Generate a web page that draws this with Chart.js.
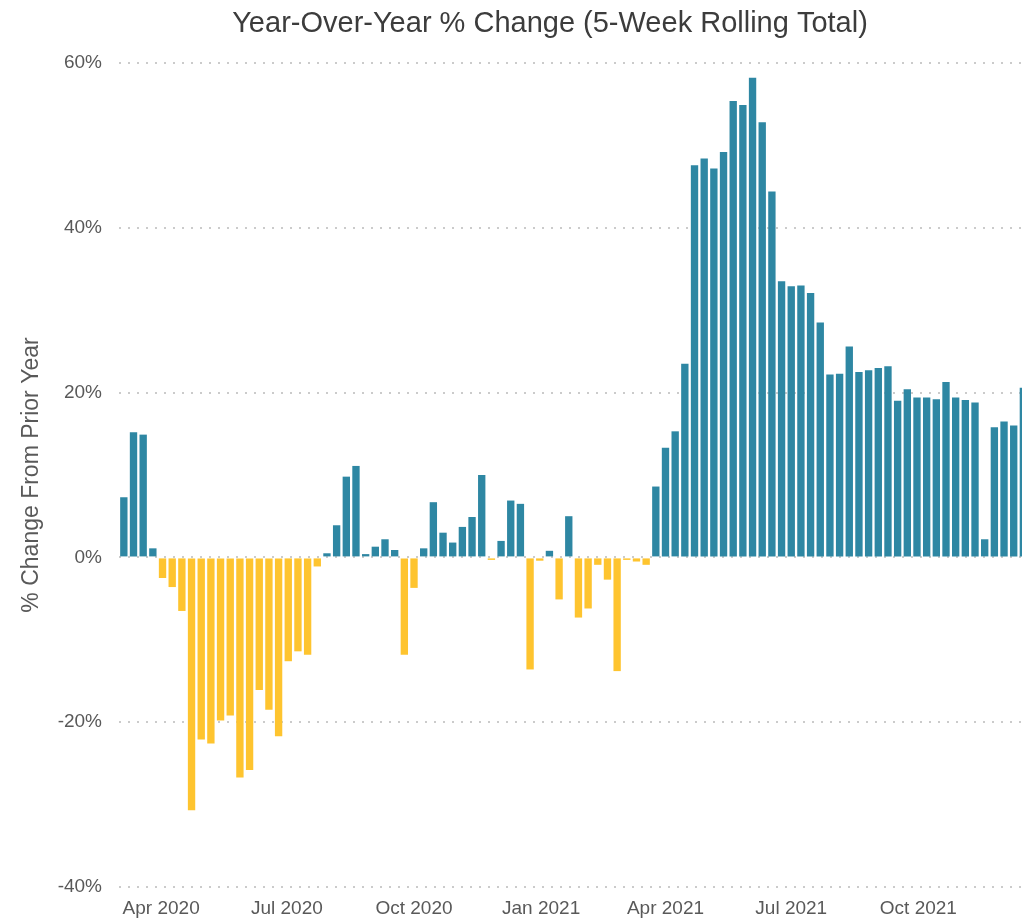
<!DOCTYPE html>
<html>
<head>
<meta charset="utf-8">
<title>Year-Over-Year % Change</title>
<script src="https://cdn.jsdelivr.net/npm/chart.js@4.4.0/dist/chart.umd.min.js"></script>
<style>
  html, body { margin: 0; padding: 0; background: #fff; overflow: hidden; }
</style>
</head>
<body>
<canvas id="canvas-1" width="1022" height="918"></canvas>
<script>
'use strict';

// week dates (one bar per week)
var weeks = [
    '2020-03-05', '2020-03-12', '2020-03-19', '2020-03-26', '2020-04-02', '2020-04-09', '2020-04-16', '2020-04-23',
    '2020-04-30', '2020-05-07', '2020-05-14', '2020-05-21', '2020-05-28', '2020-06-04', '2020-06-11', '2020-06-18',
    '2020-06-25', '2020-07-02', '2020-07-09', '2020-07-16', '2020-07-23', '2020-07-30', '2020-08-06', '2020-08-13',
    '2020-08-20', '2020-08-27', '2020-09-03', '2020-09-10', '2020-09-17', '2020-09-24', '2020-10-01', '2020-10-08',
    '2020-10-15', '2020-10-22', '2020-10-29', '2020-11-05', '2020-11-12', '2020-11-19', '2020-11-26', '2020-12-03',
    '2020-12-10', '2020-12-17', '2020-12-24', '2020-12-31', '2021-01-07', '2021-01-14', '2021-01-21', '2021-01-28',
    '2021-02-04', '2021-02-11', '2021-02-18', '2021-02-25', '2021-03-04', '2021-03-11', '2021-03-18', '2021-03-25',
    '2021-04-01', '2021-04-08', '2021-04-15', '2021-04-22', '2021-04-29', '2021-05-06', '2021-05-13', '2021-05-20',
    '2021-05-27', '2021-06-03', '2021-06-10', '2021-06-17', '2021-06-24', '2021-07-01', '2021-07-08', '2021-07-15',
    '2021-07-22', '2021-07-29', '2021-08-05', '2021-08-12', '2021-08-19', '2021-08-26', '2021-09-02', '2021-09-09',
    '2021-09-16', '2021-09-23', '2021-09-30', '2021-10-07', '2021-10-14', '2021-10-21', '2021-10-28', '2021-11-04',
    '2021-11-11', '2021-11-18', '2021-11-25', '2021-12-02', '2021-12-09', '2021-12-16'
];

// year-over-year % change
var changePct = [
    7.3, 15.2, 14.9, 1.1, -2.5, -3.6, -6.5, -30.7,
    -22.1, -22.6, -19.8, -19.2, -26.7, -25.8, -16.1, -18.5,
    -21.7, -12.6, -11.4, -11.8, -1.1, 0.5, 3.9, 9.8,
    11.1, 0.4, 1.3, 2.2, 0.9, -11.8, -3.7, 1.1,
    6.7, 3.0, 1.8, 3.7, 4.9, 10.0, -0.3, 2.0,
    6.9, 6.5, -13.6, -0.4, 0.8, -5.1, 5.0, -7.3,
    -6.2, -0.9, -2.7, -13.8, -0.3, -0.5, -0.9, 8.6,
    13.3, 15.3, 23.5, 47.6, 48.4, 47.2, 49.2, 55.4,
    54.9, 58.2, 52.8, 44.4, 33.5, 32.9, 33.0, 32.1,
    28.5, 22.2, 22.3, 25.6, 22.5, 22.7, 23.0, 23.2,
    19.0, 20.4, 19.4, 19.4, 19.2, 21.3, 19.4, 19.1,
    18.8, 2.2, 15.8, 16.5, 16.0, 20.6
];

var tickDates = ['2020-04-01', '2020-07-01', '2020-10-01', '2021-01-01', '2021-04-01', '2021-07-01', '2021-10-01'];
var tickLabels = ['Apr 2020', 'Jul 2020', 'Oct 2020', 'Jan 2021', 'Apr 2021', 'Jul 2021', 'Oct 2021'];
var yTicks = [-40, -20, 0, 20, 40, 60];

var chartTitle = 'Year-Over-Year % Change (5-Week Rolling Total)';
var yTitle = '% Change From Prior Year';

var BLUE = '#2e87a3';
var YELLOW = '#fec42f';
var FONT = "'Liberation Sans', Arial, sans-serif";

function dayNum(s) {
    return Date.parse(s) / 86400000;
}

// title sits a bit left of the plot centre in the original, so draw it ourselves
var titlePlugin = {
    id: 'topTitle',
    afterDraw: function (chart) {
        var ctx = chart.ctx;
        ctx.save();
        ctx.font = '29px ' + FONT;
        ctx.fillStyle = '#3c3c3c';
        ctx.textAlign = 'center';
        ctx.textBaseline = 'alphabetic';
        ctx.fillText(chartTitle, 550, 32);
        ctx.restore();
    }
};

Chart.defaults.font.family = FONT;

var points = [];
for (var i = 0; i < weeks.length; i++) {
    points.push({ x: dayNum(weeks[i]), y: changePct[i] });
}

var ctx = document.getElementById('canvas-1');
var chart = new Chart(ctx, {
    type: 'bar',
    data: {
        datasets: [{
            label: 'YoY % change',
            data: points,
            backgroundColor: changePct.map(function (v) { return v < 0 ? YELLOW : BLUE; }),
            borderWidth: 0,
            barPercentage: 0.76,
            categoryPercentage: 1.0
        }]
    },
    options: {
        responsive: false,
        animation: false,
        layout: { padding: { top: 63, right: 0, bottom: 0, left: 0 } },
        plugins: {
            legend: { display: false },
            tooltip: { enabled: false }
        },
        scales: {
            x: {
                type: 'linear',
                offset: false,
                min: dayNum('2020-03-01') + 0.5,
                max: dayNum('2021-12-15'),
                grid: { display: false, drawTicks: false },
                border: { display: false },
                afterBuildTicks: function (scale) {
                    scale.ticks = tickDates.map(function (d) { return { value: dayNum(d) }; });
                },
                afterFit: function (scale) { scale.height = 31; },
                ticks: {
                    autoSkip: false,
                    maxRotation: 0,
                    padding: 10,
                    color: '#595959',
                    font: { size: 19 },
                    callback: function (value, index) { return tickLabels[index]; }
                }
            },
            y: {
                min: -40,
                max: 60,
                afterBuildTicks: function (scale) {
                    scale.ticks = yTicks.map(function (v) { return { value: v }; });
                },
                afterFit: function (scale) { scale.width = 119; },
                border: { display: false, dash: [2, 7] },
                grid: { color: '#cbcbcb', lineWidth: 2, drawTicks: false },
                ticks: {
                    padding: 17,
                    color: '#595959',
                    font: { size: 19 },
                    callback: function (v) { return v + '%'; }
                },
                title: {
                    display: true,
                    text: yTitle,
                    color: '#595959',
                    font: { size: 23 },
                    padding: { top: 18, bottom: 0 }
                }
            }
        }
    },
    plugins: [titlePlugin]
});
</script>
</body>
</html>
